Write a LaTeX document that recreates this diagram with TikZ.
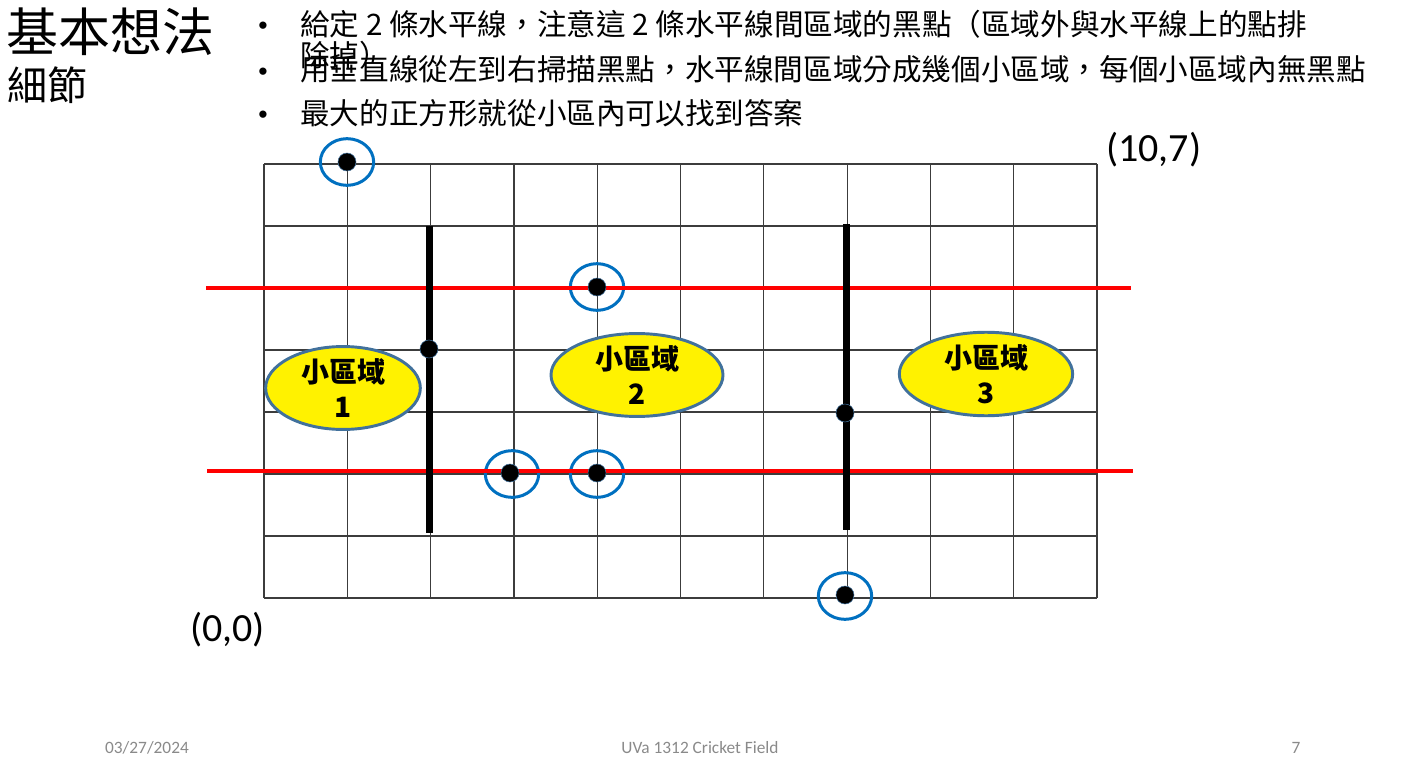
\documentclass[tikz,border=0pt]{standalone}
\usepackage{fontspec}
\setmainfont{Carlito}
\newfontfamily\cjk{Noto Sans CJK TC}
\newfontfamily\bulletfont{Liberation Sans}
\usetikzlibrary{shapes.geometric}
\definecolor{ringblue}{HTML}{0070C0}
\definecolor{edgeblue}{HTML}{41719C}
\definecolor{footgray}{HTML}{8A8A8A}
\definecolor{gridgray}{HTML}{3C3C3C}
\begin{document}
\begin{tikzpicture}[x=0.75pt,y=-0.75pt,
  gridline/.style={draw=gridgray,line width=0.9pt},
  redline/.style={draw=red,line width=2.3pt},
  sweepline/.style={draw=black,line width=5.25pt},
  dotnode/.style={circle,fill=black,draw=edgeblue,line width=0.4pt,minimum size=13.5pt,inner sep=0pt},
  ringnode/.style={ellipse,draw=ringblue,line width=2.25pt,minimum width=40pt,minimum height=35pt,inner sep=0pt},
  regionnode/.style={ellipse,draw=edgeblue,fill=yellow,line width=2.2pt,inner sep=0pt,align=center,
     font=\cjk\bfseries\fontsize{21}{26}\selectfont},
  bullettext/.style={anchor=base west,inner sep=0pt,font=\cjk\fontsize{22.2}{22}\selectfont},
  bulletdot/.style={anchor=base west,inner sep=0pt,font=\bulletfont\fontsize{20}{20}\selectfont},
  coordlabel/.style={anchor=west,inner sep=0pt,font=\fontsize{30}{30}\selectfont},
  footer/.style={anchor=center,inner sep=0pt,text=footgray,font=\fontsize{13}{13}\selectfont}]
\useasboundingbox (0,0) rectangle (1407,767);
\fill[white] (0,0) rectangle (1407,767);

% titles
\node[anchor=base west,inner sep=0pt,font=\cjk\fontsize{39}{39}\selectfont] (title) at (6,52) {基本想法};
\node[anchor=base west,inner sep=0pt,font=\cjk\fontsize{30}{30}\selectfont] (subtitle) at (7,100) {細節};

% bullets
\node[bulletdot] (b1) at (258,35) {•};
\node[bulletdot] (b2) at (258,80) {•};
\node[bulletdot] (b3) at (258,123) {•};
\node[bullettext] (t1) at (300,36) {給定 2 條水平線，注意這 2 條水平線間區域的黑點（區域外與水平線上的點排};
\node[bullettext] (t1b) at (300,67) {除掉）};
\node[bullettext] (t2) at (300,81) {用垂直線從左到右掃描黑點，水平線間區域分成幾個小區域，每個小區域內無黑點};
\node[bullettext] (t3) at (300,124) {最大的正方形就從小區內可以找到答案};

% grid
\foreach \i in {0,...,10} {
  \draw[gridline] ({264+83.3*\i},164) -- ({264+83.3*\i},598);
}
\foreach \j in {0,...,7} {
  \draw[gridline] (264,{164+62*\j}) -- (1097,{164+62*\j});
}

% rings around excluded points
\node[ringnode] (r1) at (347,162) {};
\node[ringnode] (r2) at (597,287) {};
\node[ringnode] (r3) at (512,474) {};
\node[ringnode] (r4) at (597,474) {};
\node[ringnode] (r5) at (845,596) {};

% horizontal red lines
\coordinate (h1a) at (206,288);
\coordinate (h1b) at (1131,288);
\coordinate (h2a) at (207,471);
\coordinate (h2b) at (1133,471);
\draw[redline] (h1a) -- (h1b);
\draw[redline] (h2a) -- (h2b);

% sweep lines
\coordinate (v1a) at (429,226);
\coordinate (v1b) at (429,533);
\coordinate (v2a) at (846,224);
\coordinate (v2b) at (846,530);
\draw[sweepline] (v1a) -- (v1b);
\draw[sweepline] (v2a) -- (v2b);

% points
\node[dotnode] (p1) at (347,162) {};
\node[dotnode] (p2) at (597,287) {};
\node[dotnode] (p3) at (429,349) {};
\node[dotnode] (p4) at (510,473) {};
\node[dotnode] (p5) at (597,473) {};
\node[dotnode] (p6) at (845,413) {};
\node[dotnode] (p7) at (845,595) {};

% regions
\node[regionnode,minimum width=116pt,minimum height=59pt] (e1) at (343,388) {小區域\\1};
\node[regionnode,minimum width=129pt,minimum height=59pt] (e2) at (637,375) {小區域\\2};
\node[regionnode,minimum width=130pt,minimum height=56pt] (e3) at (986,374) {小區域\\3};

% corner labels
\node[coordlabel] (o) at (190,630) {(0,0)};
\node[coordlabel] (tr) at (1106,150) {(10,7)};

% footer
\node[footer] (date) at (147,748) {03/27/2024};
\node[footer] (ttl) at (700,748) {UVa 1312 Cricket Field};
\node[footer] (pg) at (1296,748) {7};
\end{tikzpicture}
\end{document}
